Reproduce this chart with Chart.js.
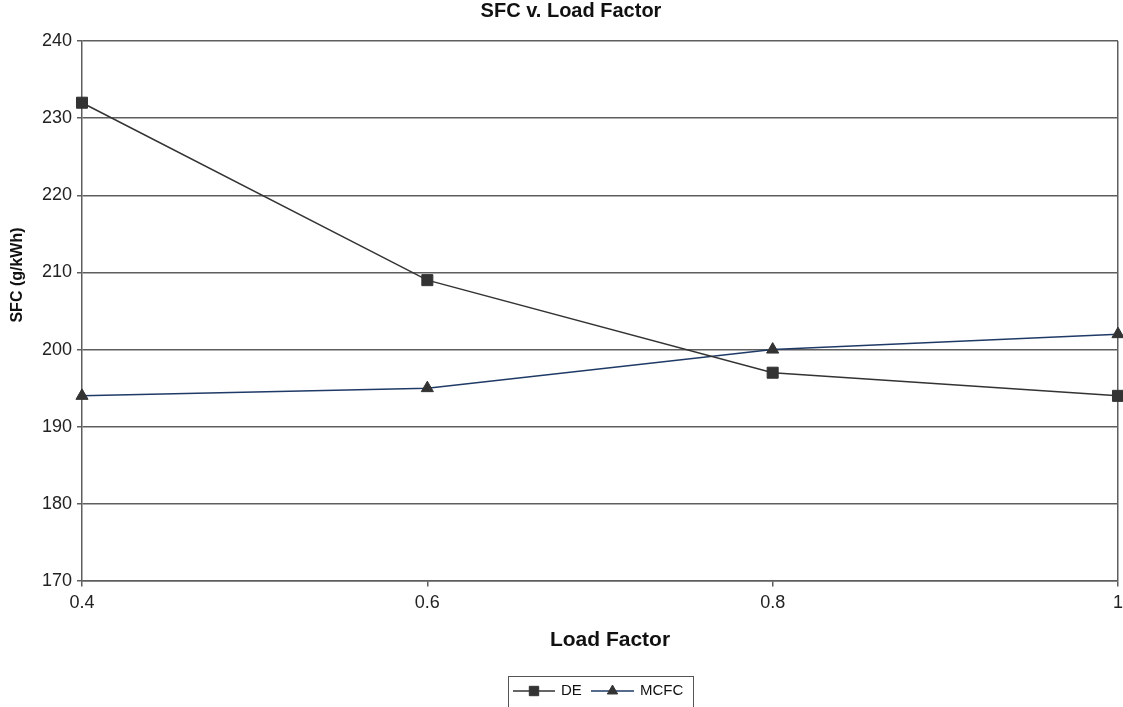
<!DOCTYPE html>
<html>
<head>
<meta charset="utf-8">
<script src="https://cdn.jsdelivr.net/npm/chart.js@4/dist/chart.umd.min.js"></script>
<style>
  html, body { margin: 0; padding: 0; background: #fff; }
  #wrap { width: 1123px; height: 707px; }
</style>
</head>
<body>
<div id="wrap"><canvas id="sfcChart" width="1123" height="707"></canvas></div>
<script>
const loadFactor = [0.4, 0.6, 0.8, 1.0];
const deSfc = [232, 209, 197, 194];
const mcfcSfc = [194, 195, 200, 202];
const xTicks = [0.4, 0.6, 0.8, 1];
const yTicks = [170, 180, 190, 200, 210, 220, 230, 240];

const fontFamily = '"Liberation Sans", Arial, Helvetica, sans-serif';
const gridColor = '#5e5e5e';

// titles and legend box drawn by hand so they sit where the original puts them
const decorPlugin = {
    id: 'decor',
    afterDraw(chart) {
        const c = chart.ctx;
        c.save();
        c.fillStyle = '#111';
        c.textBaseline = 'middle';
        c.textAlign = 'center';

        c.font = 'bold 20px ' + fontFamily;
        c.fillText('SFC v. Load Factor', 571, 11);

        c.font = 'bold 21px ' + fontFamily;
        c.fillText('Load Factor', 610, 640);

        c.save();
        c.translate(18, 275);
        c.rotate(-Math.PI / 2);
        c.font = 'bold 16px ' + fontFamily;
        c.fillText('SFC (g/kWh)', 0, 0);
        c.restore();

        // legend
        c.strokeStyle = '#555';
        c.lineWidth = 1;
        c.strokeRect(508.5, 676.5, 185, 40);

        const entries = [
            { ds: chart.data.datasets[0], x0: 513, x1: 555, tx: 561 },
            { ds: chart.data.datasets[1], x0: 591, x1: 634, tx: 640 }
        ];
        const ly = 691;
        entries.forEach(e => {
            c.strokeStyle = e.ds.borderColor;
            c.lineWidth = e.ds.borderWidth;
            c.beginPath();
            c.moveTo(e.x0, ly);
            c.lineTo(e.x1, ly);
            c.stroke();
            c.fillStyle = e.ds.pointBackgroundColor;
            c.strokeStyle = e.ds.pointBorderColor;
            c.lineWidth = 1;
            Chart.helpers.drawPoint(c, {
                pointStyle: e.ds.pointStyle,
                radius: e.ds.pointRadius * 0.85,
                rotation: 0,
                borderWidth: 1
            }, (e.x0 + e.x1) / 2, ly);
            c.fillStyle = '#111';
            c.textAlign = 'left';
            c.font = '15px ' + fontFamily;
            c.fillText(e.ds.label, e.tx, ly);
        });
        c.restore();
    }
};

const ctx = document.getElementById('sfcChart').getContext('2d');
const sfcChart = new Chart(ctx, {
    type: 'line',
    data: {
        datasets: [{
            label: 'DE',
            data: loadFactor.map((x, i) => ({ x: x, y: deSfc[i] })),
            borderColor: '#333333',
            borderWidth: 1.5,
            pointStyle: 'rect',
            pointRadius: 7.8,
            pointBackgroundColor: '#333333',
            pointBorderColor: '#333333',
            pointBorderWidth: 1,
            tension: 0,
            clip: false
        }, {
            label: 'MCFC',
            data: loadFactor.map((x, i) => ({ x: x, y: mcfcSfc[i] })),
            borderColor: '#1f3a66',
            borderWidth: 1.5,
            pointStyle: 'triangle',
            pointRadius: 7,
            pointBackgroundColor: '#333333',
            pointBorderColor: '#333333',
            pointBorderWidth: 1,
            tension: 0,
            clip: false
        }]
    },
    options: {
        responsive: false,
        animation: false,
        layout: {
            autoPadding: false,
            padding: { top: 41, right: 5, left: 0, bottom: 0 }
        },
        plugins: {
            legend: { display: false },
            title: { display: false },
            tooltip: { enabled: false }
        },
        scales: {
            x: {
                type: 'linear',
                min: 0.4,
                max: 1,
                afterBuildTicks: s => { s.ticks = xTicks.map(v => ({ value: v })); },
                afterFit: s => { s.height = 126; },
                grid: {
                    color: c => (c.index === xTicks.length - 1 ? gridColor : 'rgba(0,0,0,0)'),
                    tickColor: gridColor,
                    lineWidth: 1.5,
                    // long tick slot pushes labels down, dash keeps the visible mark short
                    tickLength: 11,
                    tickBorderDash: [5, 100]
                },
                border: { color: gridColor, width: 1.5 },
                ticks: {
                    color: '#222',
                    padding: 0,
                    font: { family: fontFamily, size: 18 },
                    callback: v => String(Math.round(v * 10) / 10)
                }
            },
            y: {
                min: 170,
                max: 240,
                afterBuildTicks: s => { s.ticks = yTicks.map(v => ({ value: v })); },
                afterFit: s => { s.width = 82; },
                grid: {
                    color: gridColor,
                    lineWidth: 1.5,
                    tickLength: 5
                },
                border: { color: gridColor, width: 1.5 },
                ticks: {
                    color: '#222',
                    padding: 5,
                    font: { family: fontFamily, size: 18 }
                }
            }
        }
    },
    plugins: [decorPlugin]
});
</script>
</body>
</html>
